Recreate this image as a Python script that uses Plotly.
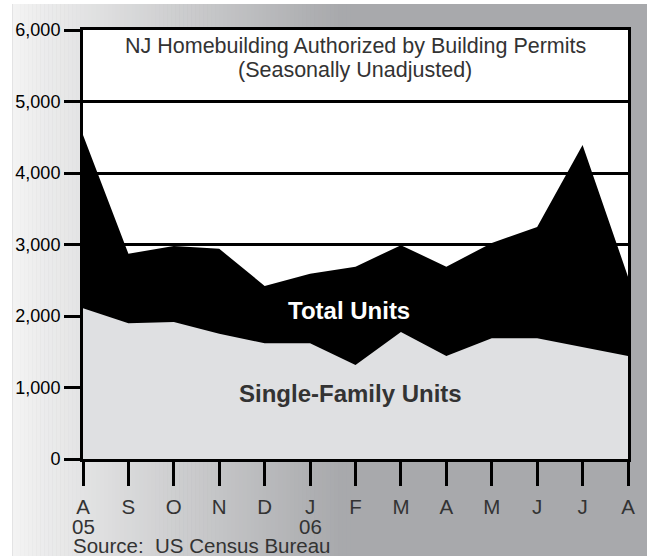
import plotly.graph_objects as go

# Aug 2005 .. Aug 2006, NJ units authorized by building permits
MONTHS = ["Aug 05", "Sep 05", "Oct 05", "Nov 05", "Dec 05", "Jan 06", "Feb 06",
          "Mar 06", "Apr 06", "May 06", "Jun 06", "Jul 06", "Aug 06"]
MONTH_LETTERS = ["A", "S", "O", "N", "D", "J", "F", "M", "A", "M", "J", "J", "A"]
TOTAL_UNITS = [4530, 2870, 2980, 2940, 2420, 2590, 2690, 2990, 2690, 3020, 3245, 4390, 2550]
SINGLE_FAMILY = [2110, 1900, 1915, 1750, 1620, 1620, 1315, 1775, 1440, 1690, 1690, 1570, 1440]
Y_TICKS = [0, 1000, 2000, 3000, 4000, 5000, 6000]
YEAR_LABELS = {"Aug 05": "05", "Jan 06": "06"}

W, H = 647, 556
L, R, T, B = 83, 15, 30, 97
PW, PH = W - L - R, H - T - B

LIGHT = "#dfe0e2"
TEXT = "#333333"
DARK_BG = "#a8a9ac"
FONT = "Liberation Sans, Arial, sans-serif"


def px_x(px):
    return (px - L) / PW


def px_y(py):
    return (H - B - py) / PH


def bg_color(px):
    # horizontal grey gradient behind the chart
    t = min(max((px - 12) / 330, 0), 1)
    a, b = (243, 243, 243), (168, 169, 172)
    c = [round(a[i] + (b[i] - a[i]) * t) for i in range(3)]
    return "rgb(%d,%d,%d)" % tuple(c)


shapes = [
    dict(type="rect", xref="paper", yref="paper", layer="below",
         x0=px_x(-2), x1=px_x(W + 10), y0=px_y(4), y1=px_y(-2),
         fillcolor="white", line=dict(width=0)),
    dict(type="rect", xref="paper", yref="paper", layer="below",
         x0=px_x(-2), x1=px_x(12), y0=px_y(H + 2), y1=px_y(-2),
         fillcolor="white", line=dict(width=0)),
]
step = 4
for px in range(12, 350, step):
    shapes.append(dict(
        type="rect", xref="paper", yref="paper", layer="below",
        x0=px_x(px), x1=px_x(px + step + 0.5), y0=px_y(H + 2), y1=px_y(4),
        fillcolor=bg_color(px + step / 2), line=dict(width=0),
    ))
shapes.append(dict(
    type="rect", xref="x domain", yref="y domain", layer="below",
    x0=0, x1=1, y0=0, y1=1, fillcolor="white", line=dict(width=0),
))

fig = go.Figure()
fig.add_trace(go.Scatter(
    x=MONTHS, y=TOTAL_UNITS, mode="lines", fill="tozeroy",
    fillcolor="black", line=dict(width=0, color="black"), name="Total Units",
))
fig.add_trace(go.Scatter(
    x=MONTHS, y=SINGLE_FAMILY, mode="lines", fill="tozeroy",
    fillcolor=LIGHT, line=dict(width=0, color=LIGHT), name="Single-Family Units",
))


def note(text, x, y, size, color, xref="paper", xanchor="center"):
    return dict(text=text, xref=xref, yref="paper", x=x, y=y,
                xanchor=xanchor, yanchor="middle", showarrow=False,
                font=dict(family=FONT, size=size, color=color))


annotations = [
    note("NJ Homebuilding Authorized by Building Permits", px_x(357), px_y(46), 21.5, TEXT),
    note("(Seasonally Unadjusted)", px_x(357), px_y(70), 21.5, TEXT),
    note("<b>Total Units</b>", px_x(351), px_y(310), 24, "white"),
    note("<b>Single-Family Units</b>", px_x(352), px_y(393), 24, TEXT),
    note("Source:  US Census Bureau", px_x(71), px_y(545), 20.5, TEXT, xanchor="left"),
]
for m, yr in YEAR_LABELS.items():
    annotations.append(note(yr, m, px_y(526), 20.5, TEXT, xref="x"))

fig.update_layout(
    width=W, height=H,
    margin=dict(l=L, r=R, t=T, b=B),
    paper_bgcolor=DARK_BG, plot_bgcolor="white",
    showlegend=False,
    shapes=shapes,
    annotations=annotations,
    xaxis=dict(
        type="category", range=[0, len(MONTHS) - 1],
        tickvals=MONTHS, ticktext=MONTH_LETTERS,
        ticks="outside", ticklen=24, tickwidth=3, tickcolor="black",
        showline=True, linewidth=3, linecolor="black", mirror=True,
        showgrid=False, zeroline=False,
        tickfont=dict(family=FONT, size=20.5, color=TEXT),
        ticklabelstandoff=3,
    ),
    yaxis=dict(
        range=[0, 6000], tickvals=Y_TICKS, tickformat=",d",
        ticks="outside", ticklen=16, tickwidth=3, tickcolor="black",
        showline=True, linewidth=3, linecolor="black", mirror=True,
        showgrid=True, gridwidth=2.5, gridcolor="black", zeroline=False,
        tickfont=dict(family=FONT, size=18, color="black"),
    ),
)

fig.write_html(
    "out.html",
    config={"displayModeBar": False},
    post_script=(
        "document.body.style.margin='0';"
        "document.body.style.overflow='hidden';"
        "document.body.style.background='" + DARK_BG + "';"
        "document.documentElement.style.overflow='hidden';"
    ),
)
